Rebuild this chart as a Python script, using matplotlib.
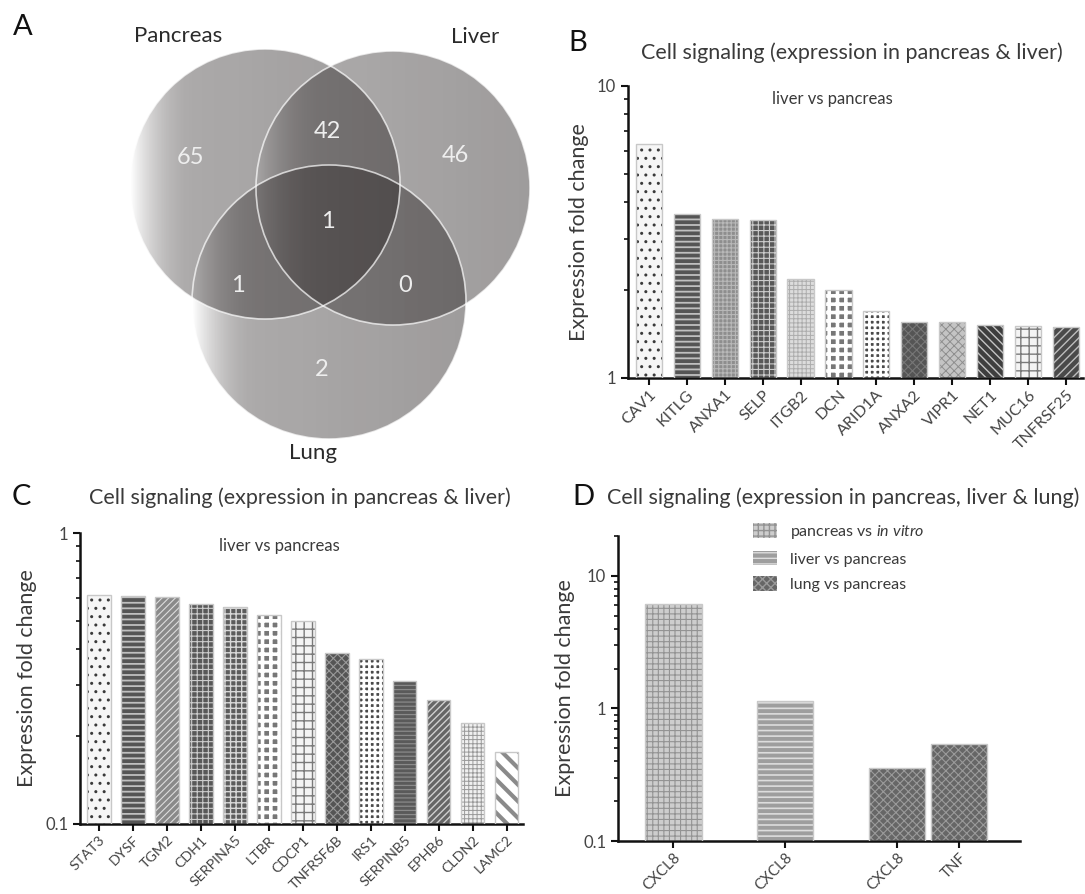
import numpy as np
import matplotlib
matplotlib.use("Agg")
import matplotlib.pyplot as plt
from matplotlib.patches import Circle, Patch
from matplotlib.ticker import LogLocator, NullFormatter

plt.rcParams['font.family'] = ['Lato', 'DejaVu Sans']
plt.rcParams['mathtext.fontset'] = 'custom'
plt.rcParams['mathtext.it'] = 'Lato:italic'
plt.rcParams['mathtext.rm'] = 'Lato'
plt.rcParams['hatch.linewidth'] = 1.0

# ---------------- data ----------------
venn_sets = ["Pancreas", "Liver", "Lung"]
venn_counts = {"P": 65, "L": 46, "G": 2, "PL": 42, "PG": 1, "LG": 0, "PLG": 1}

b_genes = ["CAV1", "KITLG", "ANXA1", "SELP", "ITGB2", "DCN", "ARID1A", "ANXA2",
           "VIPR1", "NET1", "MUC16", "TNFRSF25"]
b_values = [6.33, 3.64, 3.51, 3.47, 2.18, 2.00, 1.69, 1.56, 1.55, 1.52, 1.51, 1.50]

c_genes = ["STAT3", "DYSF", "TGM2", "CDH1", "SERPINA5", "LTBR", "CDCP1", "TNFRSF6B",
           "IRS1", "SERPINB5", "EPHB6", "CLDN2", "LAMC2"]
c_values = [0.610, 0.607, 0.603, 0.572, 0.556, 0.521, 0.498, 0.386, 0.369, 0.311,
            0.267, 0.222, 0.177]

d_groups = ["pancreas vs in vitro", "liver vs pancreas", "lung vs pancreas", "lung vs pancreas"]
d_genes = ["CXCL8", "CXCL8", "CXCL8", "TNF"]
d_values = [6.18, 1.13, 0.356, 0.541]
d_legend = [r"pancreas vs $\it{in\ vitro}$", "liver vs pancreas", "lung vs pancreas"]

# ---------------- styles: (face, hatch colour, hatch, hatch linewidth) ----------------
DOTS = ("#f6f6f6", "#3a3a3a", "..", 1.0)
STRIPES = ("#555555", "#c0c0c0", "---", 1.3)
DARKBRICK = ("#585858", "#cccccc", "+++", 0.8)
SQUARES = ("#777777", "#ffffff", "++", 2.6)
CHECK = ("#4a4a4a", "#ffffff", "+++", 2.0)
WHITEBRICK = ("#f4f4f4", "#7a7a7a", "++", 1.0)
styles_b = [DOTS, STRIPES,
            ("#8e8e8e", "#b8b8b8", "++++", 0.8), DARKBRICK,
            ("#dcdcdc", "#adadad", "++++", 0.7), SQUARES,
            CHECK, ("#555555", "#777777", "xxxx", 0.8),
            ("#c4c4c4", "#8e8e8e", "xxxx", 0.7), ("#3e3e3e", "#c4c4c4", "\\\\\\\\", 1.0),
            WHITEBRICK, ("#4a4a4a", "#bdbdbd", "////", 1.0)]
styles_c = [DOTS, STRIPES,
            ("#8a8a8a", "#dddddd", "/////", 0.8), DARKBRICK,
            ("#5c5c5c", "#d8d8d8", "+++", 1.0), SQUARES,
            WHITEBRICK, ("#555555", "#9a9a9a", "xxxx", 0.8),
            CHECK, ("#5a5a5a", "#8a8a8a", "----", 0.9),
            ("#666666", "#d0d0d0", "/////", 1.0), ("#f0f0f0", "#9a9a9a", "++++", 0.7),
            ("#ffffff", "#8a8a8a", "\\\\", 3.0)]
styles_d = {"pancreas vs in vitro": ("#cdcdcd", "#939393", "+++", 0.8),
            "liver vs pancreas": ("#9e9e9e", "#dddddd", "---", 1.2),
            "lung vs pancreas": ("#666666", "#9a9a9a", "xxxx", 0.8)}

TXT = "#3a3a3a"
W, H = 1085, 894
fig = plt.figure(figsize=(W / 100, H / 100), dpi=100)

# overlay axes in pixel coordinates (Venn + labels)
ov = fig.add_axes([0, 0, 1, 1], zorder=0)
ov.set_xlim(0, W)
ov.set_ylim(H, 0)
ov.axis("off")

# ---------------- Panel A: Venn ----------------
circles = [(265, 184, 135), (393, 188, 137), (329, 302, 137)]
for (cx, cy, r) in circles:
    n = 400
    xs = np.linspace(0, 1, n)
    t = np.clip(xs / 0.24, 0, 1)
    alpha = 0.47 * (0.82 * (1 - (1 - t) ** 2) + 0.18 * xs)
    img = np.zeros((2, n, 4))
    img[..., 0] = 0.19
    img[..., 1] = 0.17
    img[..., 2] = 0.17
    img[..., 3] = alpha
    circ = Circle((cx, cy), r, transform=ov.transData, facecolor="none", edgecolor="none")
    ov.add_patch(circ)
    im = ov.imshow(img, extent=[cx - r, cx + r, cy + r, cy - r], aspect="auto",
                   interpolation="bilinear", zorder=1)
    im.set_clip_path(circ)
    ov.add_patch(Circle((cx, cy), r, facecolor="none", edgecolor="white",
                        alpha=0.7, lw=1.2, zorder=2))
ov.set_xlim(0, W)
ov.set_ylim(H, 0)

venn_pos = {"P": (191, 157), "L": (455, 155), "G": (322, 370), "PL": (327, 132),
            "PG": (238, 285), "LG": (405, 285), "PLG": (328, 222)}
for k, (x, y) in venn_pos.items():
    ov.text(x, y, str(venn_counts[k]), color="#eeeeee", fontsize=17, ha="center",
            va="center", zorder=3)
for name, (x, y) in zip(venn_sets, [(178, 36), (475, 37), (313, 453)]):
    ov.text(x, y, name, color="#2a2a2a", fontsize=16, ha="center", va="center")

for letter, (x, y) in zip("ABCD", [(23, 27), (578, 43), (21, 497), (583, 497)]):
    ov.text(x, y, letter, fontsize=21, ha="center", va="center", color="#111111")

ov.text(852, 53, "Cell signaling (expression in pancreas & liver)", fontsize=15.5,
        ha="center", va="center", color=TXT)
ov.text(300, 498, "Cell signaling (expression in pancreas & liver)", fontsize=15.5,
        ha="center", va="center", color=TXT)
ov.text(843, 498, "Cell signaling (expression in pancreas, liver & lung)", fontsize=15.5,
        ha="center", va="center", color=TXT)


def frac(x0, y0, x1, y1):
    return [x0 / W, 1 - y1 / H, (x1 - x0) / W, (y1 - y0) / H]


def style_axes(ax):
    for s in ["top", "right"]:
        ax.spines[s].set_visible(False)
    for s in ["left", "bottom"]:
        ax.spines[s].set_linewidth(1.8)
        ax.spines[s].set_color("#111111")
    ax.set_yscale("log")
    ax.tick_params(axis="both", which="major", length=5, width=1.5, color="#111111",
                   labelcolor="#444444", labelsize=12)
    ax.tick_params(axis="x", which="major", pad=2)
    ax.tick_params(axis="y", which="minor", length=3, width=1.2, color="#111111")
    ax.set_facecolor("none")


def draw_bars(ax, xpos, values, styles, width, bottom):
    for x, v, (fc, hc, hp, hlw) in zip(xpos, values, styles):
        with plt.rc_context({"hatch.linewidth": hlw}):
            ax.bar(x, v - bottom, bottom=bottom, width=width, color=fc, edgecolor=hc,
                   hatch=hp, linewidth=0, zorder=2)
        ax.bar(x, v - bottom, bottom=bottom, width=width, color="none",
               edgecolor="#c8c8c8", linewidth=1.0, zorder=3)


def finish(ax, ticks, labels, names, fs=11.5):
    ax.set_yticks(ticks)
    ax.set_yticklabels(labels)
    ax.yaxis.set_minor_locator(LogLocator(base=10, subs=np.arange(2, 10)))
    ax.yaxis.set_minor_formatter(NullFormatter())
    ax.set_xticklabels(names, rotation=45, ha="right", rotation_mode="anchor",
                       fontsize=fs)
    ax.set_ylabel("Expression fold change", fontsize=15.5, color=TXT, labelpad=6)


# ---------------- Panel B ----------------
axb = fig.add_axes(frac(628, 86, 1083, 378), zorder=2)
style_axes(axb)
xb = np.arange(len(b_genes))
draw_bars(axb, xb, b_values, styles_b, 0.69, 1)
axb.set_ylim(1, 10)
axb.set_xlim(-0.55, len(b_genes) - 0.55)
axb.set_xticks(xb)
finish(axb, [1, 10], ["1", "10"], b_genes)
axb.text(0.45, 0.955, "liver vs pancreas", transform=axb.transAxes, fontsize=12,
         ha="center", va="center", color=TXT)

# ---------------- Panel C ----------------
axc = fig.add_axes(frac(80, 533, 523, 824), zorder=2)
style_axes(axc)
xc = np.arange(len(c_genes))
draw_bars(axc, xc, c_values, styles_c, 0.69, 0.1)
axc.set_ylim(0.1, 1)
axc.set_xlim(-0.56, len(c_genes) - 0.52)
axc.set_xticks(xc)
finish(axc, [0.1, 1], ["0.1", "1"], c_genes, fs=10.3)
axc.text(0.45, 0.955, "liver vs pancreas", transform=axc.transAxes, fontsize=12,
         ha="center", va="center", color=TXT)

# ---------------- Panel D ----------------
axd = fig.add_axes(frac(618, 536, 1020, 841), zorder=2)
style_axes(axd)
xd = [0, 1.8, 3.6, 4.6]
draw_bars(axd, xd, d_values, [styles_d[g] for g in d_groups], 0.91, 0.1)
axd.set_ylim(0.1, 20)
axd.set_xlim(-0.89, 5.58)
axd.set_xticks(xd)
finish(axd, [0.1, 1, 10], ["0.1", "1", "10"], d_genes, fs=10.8)
handles = []
for lab, key in zip(d_legend, ["pancreas vs in vitro", "liver vs pancreas",
                               "lung vs pancreas"]):
    fc, hc, hp, hlw = styles_d[key]
    with plt.rc_context({"hatch.linewidth": hlw}):
        handles.append(Patch(facecolor=fc, edgecolor=hc, hatch=hp, linewidth=0, label=lab))
axd.legend(handles=handles, loc="upper left", bbox_to_anchor=(753 / W, 1 - 523 / H),
           bbox_transform=fig.transFigure, frameon=False, fontsize=11.5,
           handlelength=1.5, handleheight=1.0, handletextpad=0.8, labelspacing=0.62,
           borderaxespad=0, borderpad=0, labelcolor=TXT)

fig.savefig("out.png", dpi=100)
